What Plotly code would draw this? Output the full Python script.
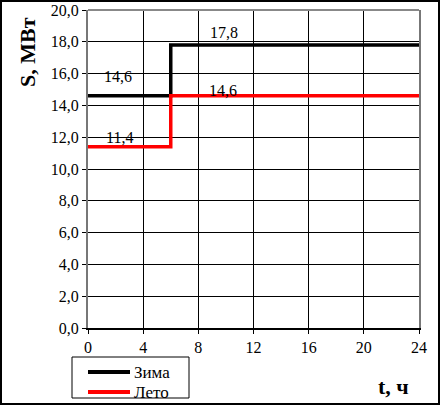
import plotly.graph_objects as go

hours = [0, 6, 24]
winter = [14.6, 17.8, 17.8]
summer = [11.4, 14.6, 14.6]
series_names = ["Зима", "Лето"]
series_colors = ["black", "#ff0000"]
x_ticks = [0, 4, 8, 12, 16, 20, 24]
y_ticks = [0, 2, 4, 6, 8, 10, 12, 14, 16, 18, 20]

W, H = 440, 405
ml, mr, mt, mb = 88, 21, 10, 77
pw, ph = W - ml - mr, H - mt - mb


def px(x):
    return (x - ml) / pw


def py(y):
    return (H - mb - y) / ph


fig = go.Figure()
for vals, name, col in zip([winter, summer], series_names, series_colors):
    fig.add_trace(go.Scatter(x=hours, y=vals, mode="lines", line_shape="hv",
                             line=dict(color=col, width=3.5), name=name, showlegend=False))

font = "'Liberation Serif', 'Times New Roman', serif"


def fmt(v):
    return f"{v:.1f}".replace(".", ",")


# value labels: (x position, value, vertical shift in px)
ann = []
label_pos = [(2.2, winter[0], 9), (9.85, winter[1], 2), (2.3, summer[0], -1), (9.8, summer[1], -5)]
for (xv, yv, sh) in label_pos:
    ann.append(dict(x=xv, y=yv, xref="x", yref="y", text=fmt(yv), showarrow=False,
                    yanchor="bottom", yshift=sh, font=dict(family=font, size=16, color="black")))

ann.append(dict(x=px(28), y=py(52), xref="paper", yref="paper",
                xanchor="center", yanchor="middle",
                text="<b>S, МВт</b>", textangle=-90, showarrow=False,
                font=dict(family=font, size=22, color="black")))
ann.append(dict(x=px(393), y=py(386), xref="paper", yref="paper",
                xanchor="center", yanchor="middle",
                text="<b>t, ч</b>", showarrow=False,
                font=dict(family=font, size=22, color="black")))

shapes = [
    dict(type="line", xref="paper", yref="paper", x0=0, x1=1, y0=1, y1=1,
         line=dict(color="#888888", width=2)),
    dict(type="rect", xref="paper", yref="paper",
         x0=px(1), x1=px(W - 1), y0=py(H - 1), y1=py(1),
         line=dict(color="black", width=2)),
    # legend box
    dict(type="rect", xref="paper", yref="paper",
         x0=px(72), x1=px(189), y0=py(398), y1=py(357),
         line=dict(color="black", width=1), fillcolor="white"),
]

for i, (name, col) in enumerate(zip(series_names, series_colors)):
    yy = 372 + 20 * i
    shapes.append(dict(type="line", xref="paper", yref="paper",
                       x0=px(88), x1=px(130), y0=py(yy), y1=py(yy),
                       line=dict(color=col, width=4)))
    ann.append(dict(x=px(132), y=py(yy), xref="paper", yref="paper",
                    xanchor="left", yanchor="middle", text=name, showarrow=False,
                    font=dict(family=font, size=17, color="black")))

fig.update_layout(
    width=W, height=H,
    margin=dict(l=ml, r=mr, t=mt, b=mb, autoexpand=False),
    paper_bgcolor="white", plot_bgcolor="white",
    separators=", ",
    font=dict(family=font, size=16, color="black"),
    showlegend=False,
    xaxis=dict(range=[0, 24], tickvals=x_ticks, showgrid=True, gridcolor="black", gridwidth=1,
               showline=True, linecolor="black", linewidth=1.5, zeroline=False,
               ticks="outside", ticklen=4, tickcolor="black", automargin=False,
               tickfont=dict(family=font, size=16)),
    yaxis=dict(range=[0, 20], tickvals=y_ticks, tickformat=".1f", showgrid=True,
               gridcolor="black", gridwidth=1, showline=True, linecolor="#777777",
               linewidth=2, mirror=True, zeroline=False, automargin=False,
               ticks="outside", ticklen=4, tickcolor="black",
               tickfont=dict(family=font, size=16)),
    annotations=ann,
    shapes=shapes,
)

fig.write_html("out.html", config={"displayModeBar": False},
               post_script="document.body.style.margin='0';document.body.style.padding='0';")
